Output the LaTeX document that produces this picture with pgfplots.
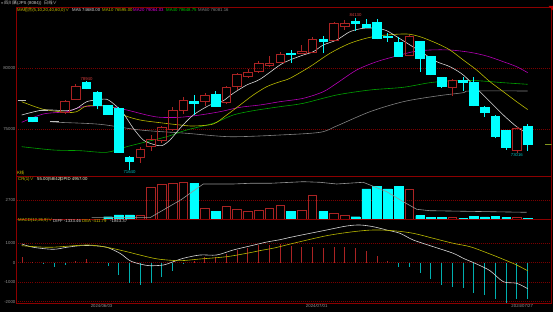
\documentclass[border=0pt]{standalone}
\usepackage{fontspec}
\setmainfont{Liberation Sans}
\newfontfamily\cjk{Noto Sans CJK SC}
\usepackage{pgfplots}
\pgfplotsset{compat=1.18}
\definecolor{bord}{RGB}{140,0,0}
\definecolor{grd}{RGB}{120,0,0}
\definecolor{rc}{RGB}{170,35,35}
\definecolor{cy}{RGB}{0,255,255}
\definecolor{dj}{RGB}{190,190,190}
\definecolor{ma5}{RGB}{215,215,215}
\definecolor{ma10}{RGB}{185,185,0}
\definecolor{ma20}{RGB}{180,0,180}
\definecolor{ma40}{RGB}{0,160,0}
\definecolor{ma60}{RGB}{130,130,130}
\definecolor{tk}{RGB}{150,150,150}
\definecolor{hy}{RGB}{205,195,0}
\definecolor{mr}{RGB}{170,35,35}
\definecolor{mc}{RGB}{0,175,175}
\definecolor{lr}{RGB}{210,60,60}
\definecolor{lc}{RGB}{0,190,190}
\definecolor{pm}{RGB}{130,150,30}
\newcommand\tf{\fontsize{4.3}{5}\selectfont}
% candle: #1 index, #2 low, #3 lower body edge, #4 upper body edge, #5 high
\newcommand\R[5]{\pgfmathsetmacro\xa{#1-0.4}\pgfmathsetmacro\xb{#1+0.4}%
 \edef\tmp{\noexpand\addplot[rc, line width=0.7pt] coordinates {(#1,#2) (#1,#3)};
 \noexpand\addplot[rc, line width=0.7pt] coordinates {(#1,#4) (#1,#5)};
 \noexpand\addplot[rc, line width=0.7pt] coordinates {(\xa,#3) (\xb,#3) (\xb,#4) (\xa,#4)} -- cycle;}\tmp}
\newcommand\C[5]{\pgfmathsetmacro\xa{#1-0.4}\pgfmathsetmacro\xb{#1+0.4}%
 \edef\tmp{\noexpand\addplot[cy, line width=0.7pt] coordinates {(#1,#2) (#1,#5)};
 \noexpand\addplot[draw=cy, fill=cy, line width=0.7pt] coordinates {(\xa,#3) (\xb,#3) (\xb,#4) (\xa,#4)} -- cycle;}\tmp}
% flat bar: #1 index, #2 price
\newcommand\D[2]{\pgfmathsetmacro\xa{#1-0.4}\pgfmathsetmacro\xb{#1+0.4}%
 \edef\tmp{\noexpand\addplot[dj, line width=0.7pt] coordinates {(\xa,#2) (\xb,#2)};}\tmp}
\pgfplotsset{
  panel/.style={scale only axis, width=535pt, xmin=-1.506, xmax=48.22,
    axis line style={draw=bord, line width=0.7pt},
    major tick length=0pt, xtick=\empty,
    ymajorgrids, grid style={draw=grd, line width=0.5pt, dash pattern=on 0.8pt off 1.2pt},
    yticklabel style={font=\tf, text=tk, inner sep=1pt},
    scaled y ticks=false},
}
\begin{document}
\begin{tikzpicture}[x=1pt,y=1pt]
\path[use as bounding box] (0,0) rectangle (553,312);
\fill[black] (0,0) rectangle (553,312);
\coordinate (PA) at (16.5pt,305pt);
\coordinate (PB) at (16.5pt,136pt);
\coordinate (PC) at (16.5pt,93pt);
% ---------------- main panel
\begin{axis}[panel, at={(PA)}, anchor=north west, height=169pt,
  ymin=71144, ymax=85002, ytick={75000,80000}, yticklabels={75000,80000}]
\addplot[ma60, line width=0.6pt, smooth, tension=0.5] coordinates {(1.61,75596) (2.38,75547) (6.25,75383) (9.97,74916) (14.31,74645) (18.34,74366) (22.98,74506) (26.70,74727) (28.25,75244) (31.35,76417) (34.44,77237) (37.55,77704) (40.02,77975) (40.64,78114) (46,78114)};
\addplot[ma40, line width=0.6pt, smooth, tension=0.5] coordinates {(-1.02,73547) (1.91,73276) (4.40,73219) (6.88,73087) (8.74,73547) (10.59,73957) (12.45,74366) (14.31,74916) (16.78,75465) (18.64,76146) (20.50,76499) (22.98,76827) (25.15,77105) (28.25,77786) (31.35,78196) (34.44,78417) (36.92,78795) (39.09,78959) (41.26,78959) (43.74,78795) (46,78663)};
\addplot[ma20, line width=0.6pt, smooth, tension=0.5] coordinates {(-1.02,75547) (0.99,76228) (3.16,76417) (4.40,76777) (5.63,76884) (6.88,76884) (8.74,76556) (10.59,76146) (11.83,75957) (13.69,75957) (15.55,76146) (17.41,76417) (19.27,76777) (21.12,76966) (22.98,77237) (25.15,77515) (27.01,78057) (28.25,78745) (30.11,79836) (31.97,80517) (33.83,80984) (35.37,81337) (36.92,81476) (38.78,81476) (40.64,81287) (42.19,80984) (43.74,80517) (44.98,80107) (46,79620)};
\addplot[ma10, line width=0.6pt, smooth, tension=0.5] coordinates {(-1.02,77237) (0.99,76613) (3.16,76367) (4.09,76417) (5.02,76884) (6.88,76884) (7.49,76777) (8.42,76146) (9.97,75736) (11.83,75515) (13.69,75326) (14.93,75244) (16.78,75408) (18.03,76146) (19.27,76966) (20.50,77786) (21.75,78467) (22.98,78877) (23.91,79155) (25.77,80107) (27.63,81205) (29.49,82025) (31.35,82517) (32.90,82706) (34.76,82788) (35.99,82567) (37.55,82025) (38.78,81476) (40.02,80656) (41.26,79836) (42.50,78877) (43.74,78057) (44.98,77237) (46,76595)};
\addplot[ma5, line width=0.6pt, smooth, tension=0.5] coordinates {(-1.02,76146) (0.99,76556) (3.16,76499) (4.09,76695) (5.02,77237) (5.95,77376) (6.88,77433) (7.65,76966) (8.42,76285) (9.35,75055) (10.28,74096) (11.21,73743) (11.99,73629) (12.76,74096) (13.69,75055) (14.93,76146) (16.48,76966) (17.57,77237) (18.64,77926) (19.89,78606) (21.12,79073) (22.98,80246) (23.91,80656) (25.15,81066) (26.08,81337) (27.01,81886) (28.25,82296) (29.49,82977) (30.72,83255) (31.97,83255) (32.90,83059) (33.83,82567) (35.07,81886) (36.30,81205) (37.55,80517) (38.78,80107) (40.02,79426) (41.26,78335) (42.50,77237) (43.74,76146) (44.98,75187) (46,74610)};
\D{-1}{77376}
\C{0}{75550}{75654}{75925}{76000}
\D{1}{76556}
\D{2}{75597}
\R{3}{76250}{76335}{77237}{77376}
\R{4}{77400}{77458}{78524}{78663}
\C{5}{78250}{78335}{78795}{78940}
\C{6}{76613}{76909}{78007}{78114}
\C{7}{76150}{76228}{76966}{76990}
\C{8}{73050}{73087}{76695}{76777}
\C{9}{71640}{72349}{72645}{72784}
\R{10}{72235}{72677}{73333}{73497}
\R{11}{73219}{73547}{74178}{74506}
\R{12}{73875}{74096}{75137}{75244}
\R{13}{74834}{74998}{76556}{76777}
\R{14}{76203}{76556}{77376}{77597}
\C{15}{76146}{77105}{77294}{77786}
\R{16}{76909}{77237}{77786}{77925}
\C{17}{76800}{76884}{77868}{78114}
\R{18}{77048}{77155}{78385}{78549}
\R{19}{78196}{78524}{79483}{79565}
\R{20}{79200}{79287}{79647}{79893}
\R{21}{79600}{79697}{80385}{80599}
\R{22}{80107}{80221}{80385}{80984}
\R{23}{80400}{80467}{81148}{81337}
\C{24}{80435}{81123}{81205}{81476}
\R{25}{81150}{81205}{81337}{81886}
\R{26}{81200}{81287}{82353}{82517}
\C{27}{81205}{82157}{82353}{82624}
\R{28}{82200}{82296}{83665}{83800}
\R{29}{83116}{83387}{83665}{83936}
\C{30}{83059}{83665}{83797}{84130}
\C{31}{83250}{83337}{83608}{84050}
\C{32}{82350}{82435}{83747}{84000}
\C{33}{82157}{82517}{82624}{82845}
\C{34}{80900}{80984}{82107}{82517}
\R{35}{81000}{81066}{82624}{82700}
\C{36}{79697}{80795}{82157}{82250}
\C{37}{79400}{79483}{80927}{81000}
\C{38}{78400}{78467}{79237}{79300}
\R{39}{77704}{78417}{79016}{79100}
\C{40}{78139}{78852}{79016}{79237}
\C{41}{76850}{76909}{78795}{79237}
\C{42}{76007}{76335}{76777}{76850}
\C{43}{74235}{74424}{76064}{76150}
\C{44}{73276}{73462}{74859}{74950}
\R{45}{73016}{73276}{75055}{75187}
\C{46}{73219}{73768}{75244}{75408}
\addplot[pm, line width=0.7pt] coordinates {(47.6,73768) (48.22,73768)};
\node[font=\tf, text=lr, anchor=south, inner sep=0.6pt] at (axis cs:30,84130) {84130};
\node[font=\tf, text=lr, anchor=south, inner sep=0.6pt] at (axis cs:5,78940) {78940};
\node[font=\tf, text=lc, anchor=north, inner sep=0.6pt] at (axis cs:9,71640) {71640};
\node[font=\tf, text=lc, anchor=north, inner sep=0.6pt] at (axis cs:45,73016) {73016};
\end{axis}
% ---------------- volume panel
\begin{axis}[panel, at={(PB)}, anchor=north west, height=43pt,
  ymin=0, ymax=6209, ytick={2700}, yticklabels={2700}]
\addplot[ybar, bar width=0.8, bar shift=0pt, draw=cy, fill=cy] coordinates {(7,332) (8,578) (9,578) (15,5155) (17,1155) (24,1054) (27,1054) (30,332) (31,4332) (32,4664) (33,4332) (34,4664) (36,477) (37,188) (38,245) (40,144) (41,390) (42,289) (43,390) (44,188) (46,144)};
\addplot[ybar, bar width=0.8, bar shift=0pt, draw=rc, fill=none, line width=0.7pt] coordinates {(10,477) (11,4577) (12,5011) (13,5155) (14,5300) (16,1545) (18,1877) (19,1444) (20,1155) (21,1300) (22,1545) (23,2022) (25,1300) (26,3466) (28,823) (29,578) (35,4289) (39,245) (45,289)};
\addplot[tk, line width=0.6pt] coordinates {(5.48,188) (10.90,188) (13.85,2845) (15.85,5054) (18.64,5054) (20.19,5155) (22.05,5155) (25.15,5386) (26.70,5300) (28.25,5054) (30.72,5300) (31.35,4910) (32.90,3942) (34.44,2498) (35.69,1401) (36.92,1199) (45.91,967)};
\end{axis}
% ---------------- MACD panel
\begin{axis}[panel, at={(PC)}, anchor=north west, height=84pt,
  ymin=-2067, ymax=2241, ytick={-2000,-1000,0,1000}, yticklabels={-2000,-1000,0,1000},
  xtick={6.4,26.4,45.5}, xticklabels={2024/06/03,2024/07/01,2024/07/27},
  xticklabel style={font=\tf, text=tk, inner sep=1pt}]
\addplot[ycomb, mr, line width=0.8pt] coordinates {(-1,277) (0,20) (4,100) (5,190) (6,20) (15,100) (16,275) (17,275) (18,445) (19,650) (20,735) (21,905) (22,908) (23,943) (24,872) (25,821) (26,821) (27,770) (28,821) (29,821) (30,770) (31,600) (32,340) (33,100)};
\addplot[ycomb, mc, line width=0.8pt] coordinates {(1,-70) (2,-205) (3,-120) (7,-150) (8,-630) (9,-1025) (10,-1145) (11,-1025) (12,-750) (13,-410) (14,-85) (34,-205) (35,-240) (36,-510) (37,-855) (38,-1145) (39,-1265) (40,-1280) (41,-1540) (42,-1655) (43,-1880) (44,-2085) (45,-1880) (46,-1843)};
\addplot[ma5, line width=0.6pt, smooth, tension=0.5] coordinates {(-1.02,959) (0.06,790) (1.91,687) (3.16,790) (4.40,872) (5.63,872) (6.88,790) (8.11,482) (9.04,103) (9.97,-67) (10.90,-154) (12.14,-118) (13.07,51) (14.00,226) (15.55,395) (17.10,395) (18.64,651) (20.19,856) (21.75,1060) (22.98,1180) (24.22,1333) (27.32,1677) (29.18,1882) (30.42,1933) (31.65,1846) (32.90,1677) (34.13,1508) (35.37,1164) (37.23,821) (39.09,482) (40.02,226) (41.26,-67) (42.50,-410) (43.74,-974) (44.98,-1056) (46,-1333)};
\addplot[ma10, line width=0.6pt, smooth, tension=0.5] coordinates {(-1.02,872) (1.61,790) (5.02,908) (6.88,790) (8.74,564) (10.59,308) (11.83,174) (13.69,103) (15.55,190) (18.03,308) (20.19,513) (21.12,620) (22.5,760) (24.22,995) (27.32,1385) (29.80,1590) (31.65,1677) (33.51,1641) (35.37,1508) (37.23,1251) (39.09,995) (40.64,821) (42.19,513) (43.74,174) (44.98,-118) (46,-412)};
\end{axis}
% ---------------- frame extras and headers
\draw[bord, line width=0.7pt] (16.5,305) -- (553,305);
\fill[red!75!black] (548.5,306) -- (553,306) -- (553,301.5) -- cycle;
\node[anchor=west, inner sep=0, text=white!80!black, font=\tf] at (1,309.2) {<<\,{\cjk 四川某}(JPS (8084))\ \ {\cjk 日线∨}};
\node[anchor=west, inner sep=0, text=hy, font=\tf] at (17,301.7) {MA{\cjk 组合}(5,10,20,40,60,0){\cjk ∨}};
\node[anchor=west, inner sep=0, text=ma5, font=\tf] at (72,301.7) {MA5 74680.00};
\node[anchor=west, inner sep=0, text=ma10, font=\tf] at (102,301.7) {MA10 76595.00};
\node[anchor=west, inner sep=0, text={rgb,255:red,220;green,0;blue,220}, font=\tf] at (133,301.7) {MA20 79064.03};
\node[anchor=west, inner sep=0, text={rgb,255:red,0;green,200;blue,0}, font=\tf] at (166,301.7) {MA40 78648.75};
\node[anchor=west, inner sep=0, text=ma60, font=\tf] at (198,301.7) {MA60 76081.16};
\node[anchor=west, inner sep=0, text=hy, font=\tf] at (17,139) {{\cjk K线}};
\node[anchor=west, inner sep=0, text=hy, font=\tf] at (18,133) {CR(1){\cjk ∨}};
\node[anchor=west, inner sep=0, text=white!85!yellow, font=\tf] at (37,133) {55.00(58/42)};
\node[anchor=west, inner sep=0, text=white!85!yellow, font=\tf] at (60,133) {OPID 4957.00};
\node[anchor=west, inner sep=0, text=hy, font=\tf] at (18,91.2) {MACD(12,26,9){\cjk ∨}};
\node[anchor=west, inner sep=0, text=ma5, font=\tf] at (53,91.2) {DIFF -1333.46};
\node[anchor=west, inner sep=0, text=hy, font=\tf] at (82,91.2) {DEA -411.79};
\node[anchor=west, inner sep=0, text=white!80!black, font=\tf] at (110,91.2) {-1843.37};
\end{tikzpicture}
\end{document}
